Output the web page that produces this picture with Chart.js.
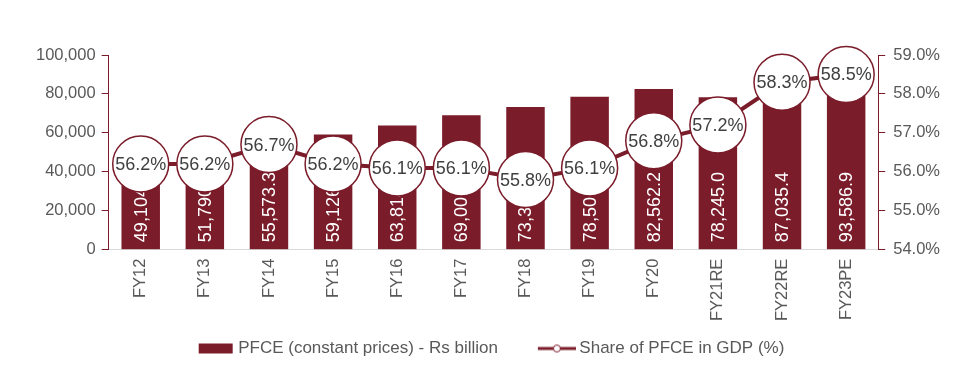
<!DOCTYPE html>
<html>
<head>
<meta charset="utf-8">
<script src="https://cdn.jsdelivr.net/npm/chart.js@4.4.0/dist/chart.umd.min.js"></script>
<style>
  html, body { margin: 0; padding: 0; background: #fff; }
  #wrap { width: 973px; height: 388px; }
</style>
</head>
<body>
<div id="wrap"><canvas id="pfceChart" width="973" height="388"></canvas></div>
<script>
// data
const years = ['FY12', 'FY13', 'FY14', 'FY15', 'FY16', 'FY17', 'FY18', 'FY19', 'FY20', 'FY21RE', 'FY22RE', 'FY23PE'];
const pfce = [49104.6, 51790.2, 55573.3, 59126.4, 63814.0, 69001.7, 73335.6, 78501.3, 82562.2, 78245.0, 87035.4, 93586.9];
const shareGdp = [56.2, 56.2, 56.7, 56.2, 56.1, 56.1, 55.8, 56.1, 56.8, 57.2, 58.3, 58.5];

const maroon = '#7b1c2a';
const txtGrey = '#595959';
const fontFam = "Arial, 'Liberation Sans', sans-serif";
const tickSize = 16.5;

//----legend icons (drawn a bit to the right so the text sits close)
function makeIcon(kind) {
    let c = document.createElement('canvas');
    c.width = 46; c.height = 12;
    let g = c.getContext('2d');
    if (kind === 'bar') {
        g.fillStyle = maroon;
        g.fillRect(10, 1, 34, 10);
    } else {
        g.strokeStyle = maroon;
        g.lineWidth = 3;
        g.beginPath(); g.moveTo(8, 6); g.lineTo(46, 6); g.stroke();
        g.fillStyle = '#fff';
        g.lineWidth = 1;
        g.beginPath(); g.arc(27, 6, 3.5, 0, Math.PI * 2); g.fill(); g.stroke();
    }
    return c;
}
const barIcon = makeIcon('bar');
const lineIcon = makeIcon('line');

//----labels plugin (bars get rotated white values, points get % text)
const labelPlugin = {
    id: 'valueLabels',
    afterDatasetDraw(chart, args) {
        if (args.index !== 0) return;
        let ctx = chart.ctx;
        let meta = chart.getDatasetMeta(0);
        ctx.save();
        ctx.font = '18px ' + fontFam;
        ctx.fillStyle = '#ffffff';
        ctx.textAlign = 'left';
        ctx.textBaseline = 'middle';
        meta.data.forEach((bar, i) => {
            ctx.save();
            ctx.translate(bar.x, bar.base - 7);
            ctx.rotate(-Math.PI / 2);
            ctx.fillText(pfce[i].toLocaleString('en-US', { minimumFractionDigits: 1, maximumFractionDigits: 1 }), 0, 1);
            ctx.restore();
        });
        ctx.restore();
    },
    afterDatasetsDraw(chart) {
        let ctx = chart.ctx;
        let meta = chart.getDatasetMeta(1);
        ctx.save();
        ctx.font = '18px ' + fontFam;
        ctx.fillStyle = '#404040';
        ctx.textAlign = 'center';
        ctx.textBaseline = 'middle';
        meta.data.forEach((pt, i) => {
            ctx.fillText(shareGdp[i].toFixed(1) + '%', pt.x, pt.y + 1);
        });
        ctx.restore();
    }
};

var ctx = document.getElementById('pfceChart').getContext('2d');
var pfceChart = new Chart(ctx, {
    type: 'bar',
    data: {
        labels: years,
        datasets: [{
            type: 'bar',
            label: 'PFCE (constant prices) - Rs billion',
            data: pfce,
            backgroundColor: maroon,
            barPercentage: 0.6,
            categoryPercentage: 1.0,
            yAxisID: 'y',
            order: 1
        }, {
            type: 'line',
            label: 'Share of PFCE in GDP (%)',
            data: shareGdp,
            borderColor: maroon,
            borderWidth: 4,
            pointRadius: 28,
            pointHoverRadius: 28,
            pointBackgroundColor: '#ffffff',
            pointBorderColor: maroon,
            pointBorderWidth: 1.5,
            tension: 0,
            clip: false,
            yAxisID: 'y1',
            order: 0
        }]
    },
    options: {
        responsive: false,
        animation: false,
        devicePixelRatio: 1,
        layout: { padding: { left: 30, right: 25, top: 55, bottom: 21 } },
        plugins: {
            tooltip: { enabled: false },
            legend: {
                position: 'bottom',
                labels: {
                    usePointStyle: true,
                    pointStyleWidth: 36,
                    padding: 18,
                    color: txtGrey,
                    font: { family: fontFam, size: 17 },
                    generateLabels: function () {
                        return [
                            // trailing spaces widen the gap before the second item
                            { text: 'PFCE (constant prices) - Rs billion    ', pointStyle: barIcon, fontColor: txtGrey, datasetIndex: 0, lineWidth: 0, strokeStyle: 'transparent', fillStyle: maroon },
                            { text: 'Share of PFCE in GDP (%)', pointStyle: lineIcon, fontColor: txtGrey, datasetIndex: 1, lineWidth: 0, strokeStyle: 'transparent', fillStyle: maroon }
                        ];
                    }
                }
            }
        },
        scales: {
            x: {
                grid: { display: false },
                border: { color: '#d9d9d9', width: 1 },
                ticks: {
                    minRotation: 90,
                    maxRotation: 90,
                    color: txtGrey,
                    font: { family: fontFam, size: tickSize },
                    padding: 1
                }
            },
            y: {
                position: 'left',
                min: 0,
                max: 100000,
                grid: { display: true, drawOnChartArea: false, tickLength: 7, tickColor: maroon },
                border: { color: maroon, width: 1 },
                ticks: {
                    stepSize: 20000,
                    color: txtGrey,
                    font: { family: fontFam, size: tickSize },
                    padding: 6,
                    callback: v => v.toLocaleString('en-US')
                }
            },
            y1: {
                position: 'right',
                min: 54,
                max: 59,
                grid: { display: true, drawOnChartArea: false, tickLength: 7, tickColor: maroon },
                border: { color: maroon, width: 1 },
                ticks: {
                    stepSize: 1,
                    color: txtGrey,
                    font: { family: fontFam, size: tickSize },
                    padding: 8,
                    callback: v => v.toFixed(1) + '%'
                }
            }
        }
    },
    plugins: [labelPlugin]
});
</script>
</body>
</html>
